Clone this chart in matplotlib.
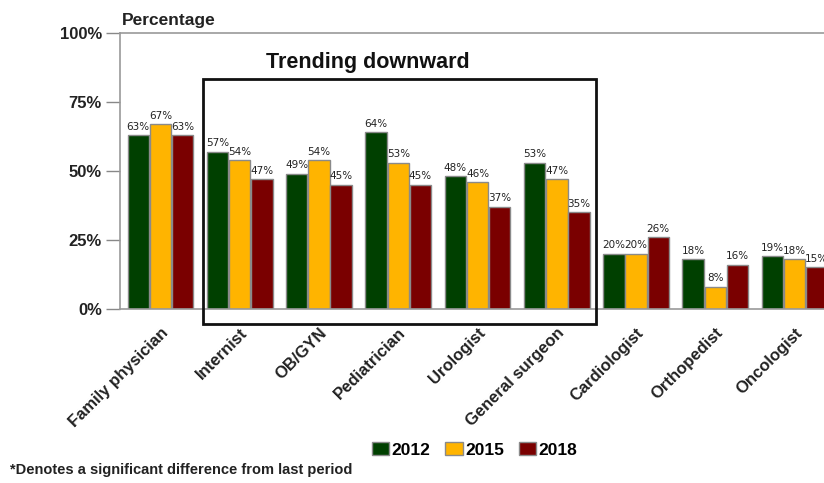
import numpy as np
import matplotlib
matplotlib.use("Agg")
import matplotlib.pyplot as plt
from matplotlib.patches import Rectangle

plt.rcParams['font.family'] = ['Liberation Sans', 'DejaVu Sans']

# =========================
# data
# =========================
specialties = ["Family physician", "Internist", "OB/GYN", "Pediatrician",
               "Urologist", "General surgeon", "Cardiologist",
               "Orthopedist", "Oncologist"]
years = ["2012", "2015", "2018"]
pct_2012 = [63, 57, 49, 64, 48, 53, 20, 18, 19]
pct_2015 = [67, 54, 54, 53, 46, 47, 20, 8, 18]
pct_2018 = [63, 47, 45, 45, 37, 35, 26, 16, 15]
y_ticks = [0, 25, 50, 75, 100]

colors = ["#004000", "#FFB400", "#7A0000"]

fig = plt.figure(figsize=(8.24, 4.83), dpi=100)
ax = fig.add_axes([0.1456, 0.361, 0.8544, 0.570])

x = np.arange(len(specialties))
bw = 0.27
step = 0.28
series = [pct_2012, pct_2015, pct_2018]
for i, (vals, c, yr) in enumerate(zip(series, colors, years)):
    pos = x + (i - 1) * step
    bars = ax.bar(pos, vals, width=bw, color=c, edgecolor="#8a8a8a",
                  linewidth=1.0, label=yr, zorder=2)
    for b, v in zip(bars, vals):
        ax.text(b.get_x() + b.get_width() / 2, v + 1.2, f"{v}%",
                ha="center", va="bottom", fontsize=7.5,
                family=['Liberation Sans Narrow', 'DejaVu Sans'],
                color="#222222", zorder=3)

ax.set_xlim(-0.51, 8.37)
ax.set_ylim(0, 100)
ax.set_yticks(y_ticks)
ax.set_yticklabels([f"{t}%" for t in y_ticks], fontsize=12,
                   fontweight="bold", color="#222222")
ax.tick_params(axis="y", length=10, width=1, color="#888888", pad=3)

ax.set_xticks(x)
ax.set_xticklabels(specialties, rotation=45, ha="right",
                   rotation_mode="anchor", fontsize=12,
                   fontweight="bold", color="#222222")
ax.tick_params(axis="x", length=0, pad=12)

for side in ["left", "bottom", "top"]:
    ax.spines[side].set_color("#999999")
    ax.spines[side].set_linewidth(1.2)
ax.spines["right"].set_visible(False)

# box around the downward group
box = Rectangle((0.532, -5.55), 5.50 - 0.532, 83.3 + 5.55, fill=False,
                edgecolor="#111111", linewidth=2, clip_on=False, zorder=4)
ax.add_patch(box)
ax.text(2.62, 89.5, "Trending downward", ha="center", va="center",
        fontsize=15.5, fontweight="bold", color="#111111")

ax.text(0.003, 1.02, "Percentage", transform=ax.transAxes, ha="left",
        va="bottom", fontsize=12.5, fontweight="bold", color="#222222")

fig.legend(loc="center", bbox_to_anchor=(0.576, 0.068), ncol=3,
           frameon=False, handlelength=1.0, handleheight=0.75,
           handletextpad=0.15, columnspacing=0.85,
           prop={"weight": "bold", "size": 12.5})

fig.text(0.012, 0.027, "*Denotes a significant difference from last period",
         ha="left", va="center", fontsize=10.5, fontweight="bold",
         color="#222222")

fig.savefig("out.png", dpi=100)
